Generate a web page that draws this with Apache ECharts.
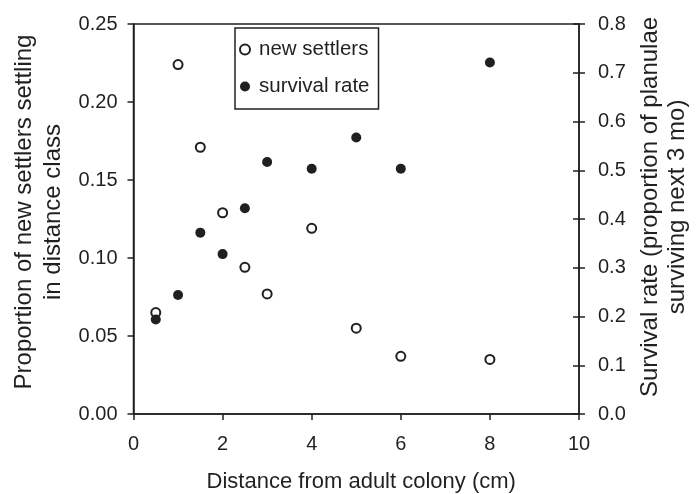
<!DOCTYPE html>
<html>
<head>
<meta charset="utf-8">
<script src="https://cdn.jsdelivr.net/npm/echarts@6/dist/echarts.min.js"></script>
<style>
  html, body { margin: 0; padding: 0; background: #fff; }
  #chart { width: 697px; height: 494px; }
</style>
</head>
<body>
<div id="chart"></div>
<script>
// Distance classes (cm) from the adult colony
const distance = [0.5, 1, 1.5, 2, 2.5, 3, 4, 5, 6, 8];
// Proportion of new settlers found in each distance class (left axis)
const newSettlers = [0.065, 0.224, 0.171, 0.129, 0.094, 0.077, 0.119, 0.055, 0.037, 0.035];
// Proportion of planulae surviving the next 3 months (right axis)
const survivalRate = [0.194, 0.244, 0.372, 0.328, 0.422, 0.517, 0.503, 0.567, 0.503, 0.721];

const ink = '#231f20';
const font = 'Liberation Sans, Arial, Helvetica, sans-serif';
const fs = 20;

const chart = echarts.init(document.getElementById('chart'), null, { renderer: 'canvas' });

const pairs = (xs, ys) => xs.map((x, i) => [x, ys[i]]);

chart.setOption({
  animation: false,
  backgroundColor: '#fff',
  textStyle: { fontFamily: font, color: ink },
  grid: {
    left: 133.5, right: 118, top: 24, bottom: 80,
    containLabel: false, outerBoundsMode: 'none',
    show: true, borderColor: ink, borderWidth: 1.5, backgroundColor: 'transparent'
  },
  legend: {
    orient: 'vertical',
    left: 235, top: 28,
    padding: [11, 9, 12, 4],
    itemGap: 16,
    itemWidth: 10, itemHeight: 10,
    borderColor: ink, borderWidth: 1.5,
    textStyle: { fontSize: 20.5, color: ink, fontFamily: font, padding: [0, 0, 0, 4] },
    data: [
      { name: 'new settlers', icon: 'circle' },
      { name: 'survival rate', icon: 'circle' }
    ]
  },
  xAxis: {
    type: 'value', min: 0, max: 10, interval: 2,
    name: 'Distance from adult colony (cm)',
    nameLocation: 'middle', nameGap: 57,
    nameTextStyle: { fontSize: 22, color: ink, fontFamily: font, padding: [0, 0, 0, 10] },
    splitLine: { show: false },
    axisLine: { show: true, onZero: false, lineStyle: { color: ink, width: 1.5 } },
    axisTick: { show: true, length: 6, lineStyle: { color: ink, width: 1.5 } },
    axisLabel: { fontSize: fs, color: ink, margin: 20, fontFamily: font }
  },
  yAxis: [
    {
      type: 'value', min: 0, max: 0.25, interval: 0.05,
      position: 'left',
      name: 'Proportion of new settlers settling\nin distance class',
      nameLocation: 'middle', nameGap: 66,
      nameTextStyle: { fontSize: 24, color: ink, fontFamily: font, lineHeight: 29,
                       padding: [0, 0, 0, 14] },
      splitLine: { show: false },
      axisLine: { show: true, lineStyle: { color: ink, width: 1.5 } },
      axisTick: { show: true, length: 6, lineStyle: { color: ink, width: 1.5 } },
      axisLabel: { fontSize: fs, color: ink, margin: 16, fontFamily: font,
                   formatter: v => v.toFixed(2) }
    },
    {
      type: 'value', min: 0, max: 0.8, interval: 0.1,
      position: 'right',
      name: 'Survival rate (proportion of planulae\nsurviving next 3 mo)',
      nameLocation: 'middle', nameGap: 56, nameRotate: 90,
      nameTextStyle: { fontSize: 24, color: ink, fontFamily: font, lineHeight: 27,
                       padding: [0, 0, 0, 24] },
      splitLine: { show: false },
      axisLine: { show: true, lineStyle: { color: ink, width: 1.5 } },
      axisTick: { show: true, length: 6, lineStyle: { color: ink, width: 1.5 } },
      axisLabel: { fontSize: fs, color: ink, margin: 19, fontFamily: font,
                   formatter: v => v.toFixed(1) }
    },
    {
      // inward half of the crossing ticks on the right axis
      type: 'value', min: 0, max: 0.8, interval: 0.1,
      position: 'right',
      splitLine: { show: false },
      axisLine: { show: false },
      axisTick: { show: true, inside: true, length: 6, lineStyle: { color: ink, width: 1.5 } },
      axisLabel: { show: false }
    }
  ],
  series: [
    {
      name: 'new settlers', type: 'scatter', yAxisIndex: 0,
      symbol: 'circle', symbolSize: 9,
      itemStyle: { color: '#fff', borderColor: ink, borderWidth: 2, opacity: 1 },
      data: pairs(distance, newSettlers)
    },
    {
      name: 'survival rate', type: 'scatter', yAxisIndex: 1,
      symbol: 'circle', symbolSize: 10,
      itemStyle: { color: ink, opacity: 1 },
      data: pairs(distance, survivalRate)
    }
  ]
});
</script>
</body>
</html>
